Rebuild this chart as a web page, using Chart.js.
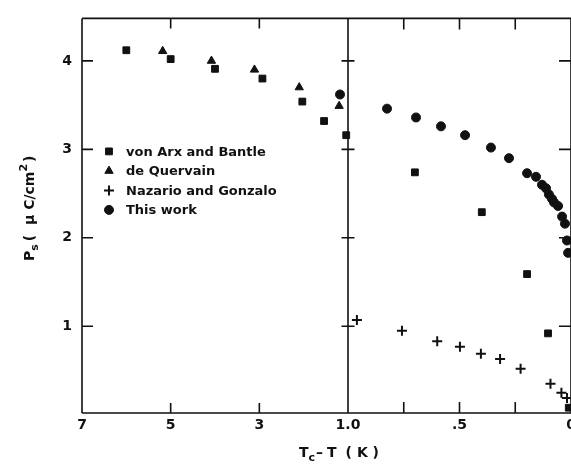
<!DOCTYPE html>
<html>
<head>
<meta charset="utf-8">
<script src="https://cdn.jsdelivr.net/npm/chart.js@4.4.1/dist/chart.umd.min.js"></script>
<style>
  html, body { margin: 0; padding: 0; background: #fff; overflow: hidden; }
  #wrap { position: absolute; left: 0; top: 0; width: 590px; height: 465px; }
</style>
</head>
<body>
<div id="wrap"><canvas id="c" width="590" height="465"></canvas></div>
<script>
// ---------- data ----------
const seriesNames = ['von Arx and Bantle', 'de Quervain', 'Nazario and Gonzalo', 'This work'];

// left panel: Tc - T from 7 K to 1 K
const vonArxLeftX  = [6.0, 5.0, 4.0, 2.93, 2.03, 1.54, 1.04];
const vonArxLeftY  = [4.12, 4.02, 3.91, 3.80, 3.54, 3.32, 3.16];
const quervainX    = [5.18, 4.08, 3.11, 2.1, 1.2];
const quervainY    = [4.11, 4.00, 3.90, 3.70, 3.49];
const thisWorkLeftX = [1.18];
const thisWorkLeftY = [3.62];

// right panel: Tc - T from 1.0 K to 0 K
const vonArxRightX = [0.70, 0.40, 0.197, 0.103, 0.01];
const vonArxRightY = [2.74, 2.29, 1.59, 0.92, 0.08];
const nazarioX = [0.96, 0.758, 0.60, 0.498, 0.404, 0.318, 0.226, 0.092, 0.043, 0.018];
const nazarioY = [1.07, 0.95, 0.83, 0.77, 0.69, 0.63, 0.52, 0.35, 0.25, 0.19];
const thisWorkRightX = [0.825, 0.695, 0.583, 0.475, 0.359, 0.278, 0.197, 0.157, 0.13, 0.112, 0.099, 0.085, 0.076, 0.058, 0.04, 0.027, 0.018, 0.013];
const thisWorkRightY = [3.46, 3.36, 3.26, 3.16, 3.02, 2.90, 2.73, 2.69, 2.60, 2.56, 2.49, 2.44, 2.40, 2.36, 2.24, 2.16, 1.97, 1.83];

// ticks
const yTickValues = [1, 2, 3, 4];
const yTickLabels = ['1', '2', '3', '4'];
const xLeftTickValues = [7, 5, 3];
const xLeftTickLabels = ['7', '5', '3'];
const xLeftMarkValues = [5, 3];
const xRightTickValues = [1, 0.5, 0];
const xRightTickLabels = ['1.0', '.5', '0'];
const xRightMarkValues = [0.75, 0.5, 0.25];

// ---------- helpers ----------
const pts = (xs, ys) => xs.map((x, i) => ({ x: x, y: ys[i] }));
const INK = '#111';
const FONT = 'DejaVu Sans';

const markerStyles = [
  { pointStyle: 'rect', radius: 4.8, borderWidth: 1 },
  { pointStyle: 'triangle', radius: 4.8, borderWidth: 1 },
  { pointStyle: 'cross', radius: 5, borderWidth: 2 },
  { pointStyle: 'circle', radius: 4.5, borderWidth: 1 }
];

function ds(data, series, xAxisID) {
  const m = markerStyles[series];
  return {
    label: seriesNames[series],
    data: data,
    xAxisID: xAxisID,
    yAxisID: 'y',
    showLine: false,
    pointStyle: m.pointStyle,
    pointRadius: m.radius,
    pointHoverRadius: m.radius,
    pointBorderWidth: m.borderWidth,
    pointBackgroundColor: INK,
    pointBorderColor: INK,
    clip: false
  };
}

// frame + inward tick marks + legend + axis titles
const framePlugin = {
  id: 'frame',
  afterDatasetsDraw(chart) {
    const ctx = chart.ctx;
    const a = chart.chartArea;
    const y = chart.scales.y, x1 = chart.scales.x1, x2 = chart.scales.x2;
    const xDiv = x1.getPixelForValue(1);
    ctx.save();
    ctx.strokeStyle = INK;
    ctx.lineWidth = 1.6;
    ctx.beginPath();
    // frame
    ctx.moveTo(a.left, a.top); ctx.lineTo(a.right, a.top);
    ctx.moveTo(a.left, a.bottom); ctx.lineTo(a.right, a.bottom);
    ctx.moveTo(a.left, a.top); ctx.lineTo(a.left, a.bottom);
    ctx.moveTo(a.right, a.top); ctx.lineTo(a.right, a.bottom);
    ctx.moveTo(xDiv, a.top); ctx.lineTo(xDiv, a.bottom);
    // y ticks
    yTickValues.forEach(v => {
      const py = y.getPixelForValue(v);
      ctx.moveTo(a.left, py); ctx.lineTo(a.left + 11, py);
      ctx.moveTo(xDiv - 6.5, py); ctx.lineTo(xDiv + 6.5, py);
      ctx.moveTo(a.right - 12, py); ctx.lineTo(a.right, py);
    });
    // x ticks
    xLeftMarkValues.forEach(v => {
      const px = x1.getPixelForValue(v);
      ctx.moveTo(px, a.top); ctx.lineTo(px, a.top + 10);
      ctx.moveTo(px, a.bottom); ctx.lineTo(px, a.bottom - 10);
    });
    xRightMarkValues.forEach(v => {
      const px = x2.getPixelForValue(v);
      ctx.moveTo(px, a.top); ctx.lineTo(px, a.top + 11);
      ctx.moveTo(px, a.bottom); ctx.lineTo(px, a.bottom - 11);
    });
    ctx.stroke();

    // legend
    const lx = a.left + 27, ly0 = a.top + 133, dy = 19.5;
    ctx.font = 'bold 13px "' + FONT + '"';
    ctx.fillStyle = INK;
    ctx.textBaseline = 'middle';
    ctx.textAlign = 'left';
    seriesNames.forEach((name, i) => {
      const m = markerStyles[i];
      const py = ly0 + i * dy;
      ctx.lineWidth = m.borderWidth;
      Chart.helpers.drawPoint(ctx, { pointStyle: m.pointStyle, radius: m.radius, borderWidth: m.borderWidth, rotation: 0 }, lx, py);
      ctx.fillText(name, lx + 17, py + 1);
    });

    // x title: Tc - T (K)
    ctx.font = 'bold 14px "' + FONT + '"';
    ctx.textBaseline = 'alphabetic';
    let tx = 299, ty = 457;
    ctx.fillText('T', tx, ty); tx += ctx.measureText('T').width;
    ctx.font = 'bold 11px "' + FONT + '"';
    ctx.fillText('c', tx, ty + 4); tx += ctx.measureText('c').width + 1;
    ctx.font = 'bold 14px "' + FONT + '"';
    ctx.fillText('\u2013', tx, ty); tx += ctx.measureText('\u2013').width + 4;
    ctx.fillText('T', tx, ty); tx += ctx.measureText('T').width + 9;
    ctx.fillText('( K )', tx, ty);

    // y title: Ps (μC/cm2), rotated
    ctx.save();
    ctx.translate(34, 261);
    ctx.rotate(-Math.PI / 2);
    let sx = 0;
    ctx.font = 'bold 14px "' + FONT + '"';
    ctx.fillText('P', sx, 0); sx += ctx.measureText('P').width;
    ctx.font = 'bold 11px "' + FONT + '"';
    ctx.fillText('s', sx, 4); sx += ctx.measureText('s').width + 3;
    ctx.font = 'bold 14px "' + FONT + '"';
    const mid = '(  \u03BC C/cm';
    ctx.fillText(mid, sx, 0); sx += ctx.measureText(mid).width;
    ctx.font = 'bold 11px "' + FONT + '"';
    ctx.fillText('2', sx, -7); sx += ctx.measureText('2').width + 2;
    ctx.font = 'bold 14px "' + FONT + '"';
    ctx.fillText(')', sx, 0);
    ctx.restore();

    ctx.restore();
  }
};

const tickFont = { family: FONT, size: 14, weight: 'bold' };

const chart = new Chart(document.getElementById('c'), {
  type: 'scatter',
  data: {
    datasets: [
      ds(pts(vonArxLeftX, vonArxLeftY), 0, 'x1'),
      ds(pts(quervainX, quervainY), 1, 'x1'),
      ds(pts(thisWorkLeftX, thisWorkLeftY), 3, 'x1'),
      ds(pts(vonArxRightX, vonArxRightY), 0, 'x2'),
      ds(pts(nazarioX, nazarioY), 2, 'x2'),
      ds(pts(thisWorkRightX, thisWorkRightY), 3, 'x2')
    ]
  },
  options: {
    responsive: false,
    animation: false,
    devicePixelRatio: 1,
    layout: { padding: { top: 12, right: 19, left: 0, bottom: 0 } },
    plugins: { legend: { display: false }, tooltip: { enabled: false } },
    scales: {
      x1: {
        type: 'linear', position: 'bottom', stack: 'xs', stackWeight: 266,
        min: 1, max: 7, reverse: true,
        grid: { display: false, drawTicks: false }, border: { display: false },
        afterBuildTicks: s => { s.ticks = xLeftTickValues.map(v => ({ value: v })); },
        afterFit: s => { s.height = 52; },
        ticks: {
          color: INK, font: tickFont, padding: 4, maxRotation: 0, autoSkip: false,
          callback: v => xLeftTickLabels[xLeftTickValues.indexOf(v)]
        }
      },
      x2: {
        type: 'linear', position: 'bottom', stack: 'xs', stackWeight: 223,
        min: 0, max: 1, reverse: true,
        grid: { display: false, drawTicks: false }, border: { display: false },
        afterBuildTicks: s => { s.ticks = xRightTickValues.map(v => ({ value: v })); },
        afterFit: s => { s.height = 52; },
        ticks: {
          color: INK, font: tickFont, padding: 4, maxRotation: 0, autoSkip: false,
          callback: v => xRightTickLabels[xRightTickValues.indexOf(v)]
        }
      },
      y: {
        type: 'linear', position: 'left', min: 0.02, max: 4.48,
        grid: { display: false, drawTicks: false }, border: { display: false },
        afterBuildTicks: s => { s.ticks = yTickValues.map(v => ({ value: v })); },
        afterFit: s => { s.width = 82; },
        ticks: {
          color: INK, font: tickFont, padding: 10,
          callback: v => yTickLabels[yTickValues.indexOf(v)]
        }
      }
    }
  },
  plugins: [framePlugin]
});
</script>
</body>
</html>
